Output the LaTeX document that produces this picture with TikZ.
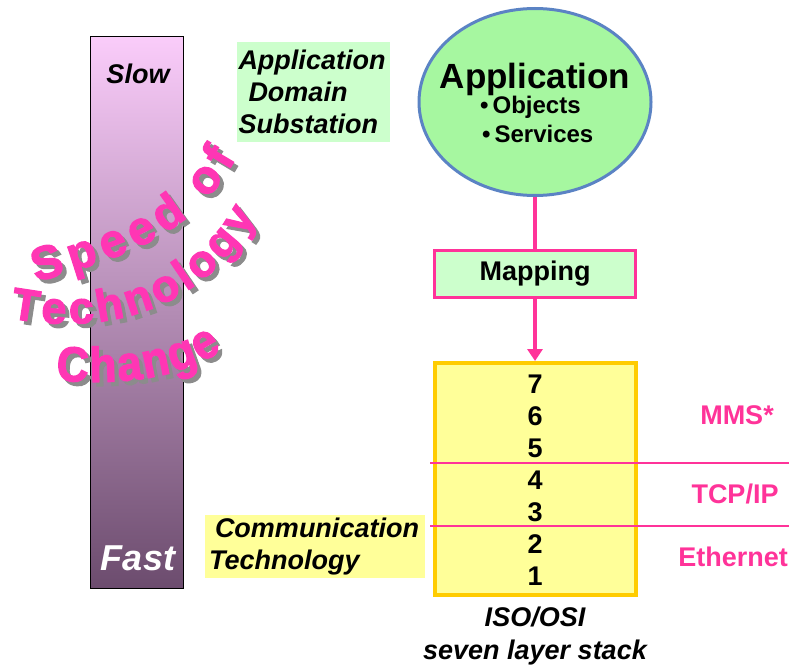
\documentclass[tikz,border=0pt]{standalone}
\usepackage{fontspec}
\setmainfont{Liberation Sans}
\newfontfamily\wordfont[FakeBold = 2.5]{Liberation Sans Bold}
\newfontfamily\wordnarrow[FakeBold = 2.5, FakeStretch = 0.9]{Liberation Sans Bold}
\usetikzlibrary{shapes.geometric, arrows.meta, decorations.text}

\definecolor{barTop}{HTML}{FACCFA}
\definecolor{barBottom}{HTML}{6C4C6E}
\definecolor{paleGreen}{HTML}{CCFFCC}
\definecolor{appGreen}{HTML}{A6F7A0}
\definecolor{appBlue}{HTML}{5B83C4}
\definecolor{linkPink}{HTML}{FF3399}
\definecolor{paleYellow}{HTML}{FFFF99}
\definecolor{stackGold}{HTML}{FFCC00}
\definecolor{wordPink}{HTML}{FF36B4}
\definecolor{shadowGray}{HTML}{8C8C8C}

\begin{document}
\begin{tikzpicture}[x = 1pt, y = -1pt,
	every node/.style = {font = \fontsize{27}{32}\selectfont\bfseries},
	tagtext/.style = {font = \fontsize{27}{32}\selectfont\bfseries\itshape},
	speedbar/.style = {draw, line width = 1, top color = barTop, bottom color = barBottom,
		minimum width = 93, minimum height = 551, inner sep = 0},
	areabox/.style = {tagtext, fill = #1, inner sep = 0, align = left},
	appellipse/.style = {ellipse, draw = appBlue, line width = 3, fill = appGreen,
		minimum width = 232, minimum height = 187},
	mapbox/.style = {draw = linkPink, line width = 3, fill = paleGreen,
		minimum width = 201, minimum height = 47},
	stackbox/.style = {draw = stackGold, line width = 4, fill = paleYellow,
		minimum width = 201, minimum height = 232},
	link/.style = {draw = linkPink, line width = 3.5},
	divider/.style = {draw = linkPink, line width = 1.2},
	protocol/.style = {text = linkPink},
	wordart/.style 2 args = {decorate, decoration = {text along path, text align = {fit to path},
		text = {|#1|#2}}}]

	\useasboundingbox (0, 0) rectangle (789, 666);

	% Speed bar on the left
	
	\node [speedbar] (bar) at (136.5, 312.5) {};
	\node [tagtext] (slow) at (138, 74) {Slow};
	\node [tagtext, text = white, font = \fontsize{36}{40}\selectfont\bfseries\itshape] (fast) at (138, 558) {Fast};
	
	% Curved caption, shadow first
	
	\foreach \dx/\col in {4/shadowGray, 0/wordPink} {
		\begin{scope}[shift = {(\dx, \dx)}, decoration = {text color = \col}]
			\path [wordart = {\wordfont\fontsize{47}{47}\selectfont}{Speed of}] (36, 282) .. controls (120, 258) and (192, 238) .. (236, 158);
			\path [wordart = {\wordfont\fontsize{45}{45}\selectfont}{Technology}] (10, 318) .. controls (100, 336) and (202, 314) .. (256, 216);
			\path [wordart = {\wordnarrow\fontsize{49}{49}\selectfont}{Change}] (56, 380) .. controls (120, 386) and (182, 378) .. (222, 350);
		\end{scope}
	}
	
	% Domain boxes
	
	\node [areabox = paleGreen, minimum width = 153, minimum height = 100, text width = 150] (domain)
		at (313.5, 92) {Application\\\hspace*{10pt}Domain\\Substation};
	\node [areabox = paleYellow, minimum width = 220, minimum height = 63, text width = 212] (comm)
		at (315, 546.5) {\hspace*{6pt}Communication\\Technology};
	
	% Application, mapping and stack
	
	\node [appellipse] (app) at (535, 102) {};
	\node [font = \fontsize{35}{40}\selectfont\bfseries] (apptitle) at (535, 79) {Application};
	\node [font = \fontsize{24}{28}\selectfont\bfseries, anchor = west, inner sep = 0] (appobj) at (480, 107) {•\,Objects};
	\node [font = \fontsize{24}{28}\selectfont\bfseries, anchor = west, inner sep = 0] (appsrv) at (482, 134) {•\,Services};
	
	\node [mapbox] (map) at (535, 273.5) {Mapping};
	\node [stackbox] (stack) at (535, 479) {};
	
	\foreach \n [count = \i] in {7, 6, 5, 4, 3, 2, 1}
		\node (layer\n) at (535, {384 + (\i - 1) * 32}) {\n};
	
	\draw [link] (app) -- (map);
	\draw [link, -{Triangle[length = 12pt, width = 15pt]}] (map) -- (stack);
	
	% Protocol split lines
	
	\coordinate (upperL) at (430, 463);
	\coordinate (upperR) at (789, 463);
	\coordinate (lowerL) at (430, 526);
	\coordinate (lowerR) at (789, 526);
	\draw [divider] (upperL) -- (upperR);
	\draw [divider] (lowerL) -- (lowerR);
	
	\node [protocol] (mms) at (737, 415) {MMS*};
	\node [protocol] (tcp) at (735, 494) {TCP/IP};
	\node [protocol] (eth) at (733, 557) {Ethernet};
	
	\node [tagtext, align = center, font = \fontsize{27}{33}\selectfont\bfseries\itshape] (iso)
		at (535, 636) {ISO/OSI\\seven layer stack};
	
\end{tikzpicture}
\end{document}
